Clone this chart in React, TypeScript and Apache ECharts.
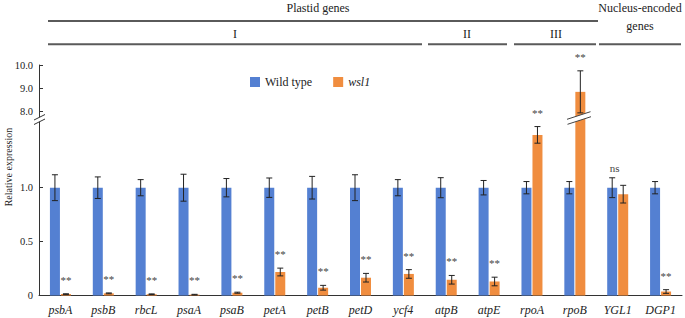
import React, { useEffect, useRef } from 'react';
import * as echarts from 'echarts';

const genes = ['psbA', 'psbB', 'rbcL', 'psaA', 'psaB', 'petA', 'petB', 'petD', 'ycf4', 'atpB', 'atpE', 'rpoA', 'rpoB', 'YGL1', 'DGP1'];
const wildType = [1, 1, 1, 1, 1, 1, 1, 1, 1, 1, 1, 1, 1, 1, 1];
const wildTypeErr = [0.12, 0.1, 0.075, 0.125, 0.085, 0.09, 0.105, 0.12, 0.075, 0.093, 0.067, 0.057, 0.057, 0.092, 0.057];
const wsl1 = [0.013, 0.02, 0.012, 0.008, 0.026, 0.218, 0.072, 0.165, 0.2, 0.146, 0.13, 1.49, 8.85, 0.94, 0.037];
const wsl1Err = [0.003, 0.004, 0.003, 0.003, 0.005, 0.036, 0.022, 0.04, 0.04, 0.04, 0.04, 0.077, 0.9, 0.082, 0.017];
const significance = ['**', '**', '**', '**', '**', '**', '**', '**', '**', '**', '**', '**', '**', 'ns', '**'];

const lowerTicks = [0, 0.5, 1.0];
const upperTicks = [8, 9, 10];
const LOWER_MAX = 1.628;
const UPPER_MIN = 7.645;
const UPPER_MAX = 10;

const FONT = 'Liberation Serif';
const BLUE = '#5480D2';
const ORANGE = '#F08D3F';
const TXT = '#222';

function errorSeries(values: number[], errs: number[], offset: number, grid: number, inLower: boolean) {
  const data: number[][] = [];
  values.forEach((v, i) => {
    const hi = v + errs[i];
    if (inLower ? hi <= LOWER_MAX : v > UPPER_MIN) data.push([i, v - errs[i], hi]);
  });
  return {
    type: 'custom',
    xAxisIndex: grid,
    yAxisIndex: grid,
    silent: true,
    z: 5,
    data,
    renderItem: (params: any, api: any) => {
      const c = api.value(0);
      const x = api.coord([c, api.value(1)])[0] + offset;
      const yLo = api.coord([c, api.value(1)])[1];
      const yHi = api.coord([c, api.value(2)])[1];
      const st = { stroke: '#222', lineWidth: 1 };
      return {
        type: 'group',
        children: [
          { type: 'line', shape: { x1: x, y1: yLo, x2: x, y2: yHi }, style: st },
          { type: 'line', shape: { x1: x - 3, y1: yHi, x2: x + 3, y2: yHi }, style: st },
          { type: 'line', shape: { x1: x - 3, y1: yLo, x2: x + 3, y2: yLo }, style: st },
        ],
      };
    },
  };
}

function sigSeries(grid: number, inLower: boolean) {
  const data: any[] = [];
  significance.forEach((s, i) => {
    const topO = wsl1[i] + wsl1Err[i];
    const topB = wildType[i] + wildTypeErr[i];
    const top = s === 'ns' ? Math.max(topO, topB) : topO;
    if (inLower ? top <= LOWER_MAX : top > UPPER_MIN) data.push([i, top, s]);
  });
  return {
    type: 'custom',
    xAxisIndex: grid,
    yAxisIndex: grid,
    silent: true,
    z: 6,
    clip: false,
    data,
    renderItem: (params: any, api: any) => {
      const c = api.value(0);
      const p = api.coord([c, api.value(1)]);
      const label = data[params.dataIndex][2];
      const isNs = label === 'ns';
      return {
        type: 'text',
        x: p[0] + (isNs ? -3 : 5.5),
        y: p[1] - (isNs ? 10 : 14),
        style: {
          text: label,
          fontFamily: FONT,
          fontSize: 11,
          fill: '#444',
          textAlign: 'center',
          textVerticalAlign: 'middle',
        },
      };
    },
  };
}

export default function App() {
  const ref = useRef<HTMLDivElement>(null);
  useEffect(() => {
    if (!ref.current) return;
    const chart = echarts.init(ref.current, undefined, { renderer: 'svg' });
    const upperMap = (arr: number[]) => arr.map((v) => (v > UPPER_MIN ? v : '-'));
    const axisLineStyle = { color: '#333', width: 1 };
    const headerLine = { stroke: '#5a5a5a', lineWidth: 2 };
    const txt = (text: string, x: number, y: number, extra: any = {}) => ({
      type: 'text',
      x,
      y,
      style: { text, fontFamily: FONT, fontSize: 12, fill: TXT, textAlign: 'center', textVerticalAlign: 'middle', ...extra },
    });
    const option: any = {
      animation: false,
      backgroundColor: '#fff',
      textStyle: { fontFamily: FONT },
      grid: [
        { left: 39, right: 3, top: 65, height: 55 },
        { left: 39, right: 3, top: 120, bottom: 22.5 },
      ],
      legend: {
        data: ['Wild type', 'wsl1'],
        left: 250,
        top: 76,
        padding: 0,
        itemWidth: 10,
        itemHeight: 10,
        itemGap: 21,
        icon: 'rect',
        formatter: (n: string) => (n === 'wsl1' ? '{i|wsl1}' : '{n|' + n + '}'),
        textStyle: {
          fontFamily: FONT,
          fontSize: 12,
          color: TXT,
          rich: {
            i: { fontStyle: 'italic', fontFamily: FONT, fontSize: 12, color: TXT },
            n: { fontFamily: FONT, fontSize: 12, color: TXT },
          },
        },
      },
      xAxis: [
        { type: 'category', gridIndex: 0, data: genes, show: false },
        {
          type: 'category',
          gridIndex: 1,
          data: genes,
          axisLine: { lineStyle: axisLineStyle },
          axisTick: { show: false },
          axisLabel: { fontFamily: FONT, fontStyle: 'italic', fontSize: 12, color: TXT, margin: 8, interval: 0 },
        },
      ],
      yAxis: [
        {
          type: 'value',
          gridIndex: 0,
          min: UPPER_MIN,
          max: UPPER_MAX,
          axisLine: { show: true, lineStyle: axisLineStyle },
          axisTick: { show: true, inside: true, length: 4, customValues: upperTicks, lineStyle: axisLineStyle },
          axisLabel: {
            customValues: upperTicks,
            formatter: (v: number) => v.toFixed(1),
            fontFamily: FONT,
            fontSize: 10.5,
            color: TXT,
            margin: 6,
          },
          splitLine: { show: false },
        },
        {
          type: 'value',
          gridIndex: 1,
          min: 0,
          max: LOWER_MAX,
          axisLine: { show: true, lineStyle: axisLineStyle },
          axisTick: { show: true, inside: true, length: 4, customValues: lowerTicks, lineStyle: axisLineStyle },
          axisLabel: {
            customValues: lowerTicks,
            formatter: (v: number) => (v === 0 ? '0' : v.toFixed(1)),
            fontFamily: FONT,
            fontSize: 10.5,
            color: TXT,
            margin: 6,
          },
          splitLine: { show: false },
        },
      ],
      series: [
        { name: 'Wild type', type: 'bar', xAxisIndex: 0, yAxisIndex: 0, data: upperMap(wildType), barWidth: 10, barGap: '10%', itemStyle: { color: BLUE } },
        { name: 'wsl1', type: 'bar', xAxisIndex: 0, yAxisIndex: 0, data: upperMap(wsl1), barWidth: 10, barGap: '10%', itemStyle: { color: ORANGE } },
        { name: 'Wild type', type: 'bar', xAxisIndex: 1, yAxisIndex: 1, data: wildType, barWidth: 10, barGap: '10%', clip: true, itemStyle: { color: BLUE } },
        { name: 'wsl1', type: 'bar', xAxisIndex: 1, yAxisIndex: 1, data: wsl1, barWidth: 10, barGap: '10%', clip: true, itemStyle: { color: ORANGE } },
        errorSeries(wildType, wildTypeErr, -5.5, 1, true),
        errorSeries(wsl1, wsl1Err, 5.5, 1, true),
        errorSeries(wsl1, wsl1Err, 5.5, 0, false),
        sigSeries(1, true),
        sigSeries(0, false),
      ],
      graphic: [
        txt('Plastid genes', 318, 8),
        { type: 'line', shape: { x1: 48, y1: 21, x2: 598, y2: 21 }, style: headerLine },
        txt('I', 235, 34),
        txt('II', 467, 34),
        txt('III', 556, 34),
        { type: 'line', shape: { x1: 48, y1: 44.3, x2: 422, y2: 44.3 }, style: headerLine },
        { type: 'line', shape: { x1: 428, y1: 44.3, x2: 507, y2: 44.3 }, style: headerLine },
        { type: 'line', shape: { x1: 514, y1: 44.3, x2: 596, y2: 44.3 }, style: headerLine },
        { type: 'line', shape: { x1: 599, y1: 44.3, x2: 681, y2: 44.3 }, style: headerLine },
        txt('Nucleus-encoded', 640, 8),
        txt('genes', 640, 26),
        {
          type: 'text',
          x: 8,
          y: 167,
          rotation: Math.PI / 2,
          style: { text: 'Relative expression', fontFamily: FONT, fontSize: 10, fill: TXT, textAlign: 'center', textVerticalAlign: 'middle' },
        },
        // axis break marks
        { type: 'polygon', z: 100, shape: { points: [[34, 120], [45, 114.5], [45, 119], [34, 124.5]] }, style: { fill: '#fff' } },
        { type: 'line', z: 101, shape: { x1: 34, y1: 120, x2: 45, y2: 114.5 }, style: { stroke: '#333', lineWidth: 1 } },
        { type: 'line', z: 101, shape: { x1: 34, y1: 124.5, x2: 45, y2: 119 }, style: { stroke: '#333', lineWidth: 1 } },
        // bar break marks on rpoB
        { type: 'polygon', z: 100, shape: { points: [[567, 119.3], [590.5, 111.7], [591, 116.7], [567.5, 124.3]] }, style: { fill: '#fff' } },
        { type: 'line', z: 101, shape: { x1: 567, y1: 119.3, x2: 590.5, y2: 111.7 }, style: { stroke: '#444', lineWidth: 1 } },
        { type: 'line', z: 101, shape: { x1: 567.5, y1: 124.3, x2: 591, y2: 116.7 }, style: { stroke: '#444', lineWidth: 1 } },
      ],
    };
    chart.setOption(option);
    return () => chart.dispose();
  }, []);
  return <div ref={ref} style={{ position: 'fixed', left: 0, top: 0, width: 685, height: 318 }} />;
}
